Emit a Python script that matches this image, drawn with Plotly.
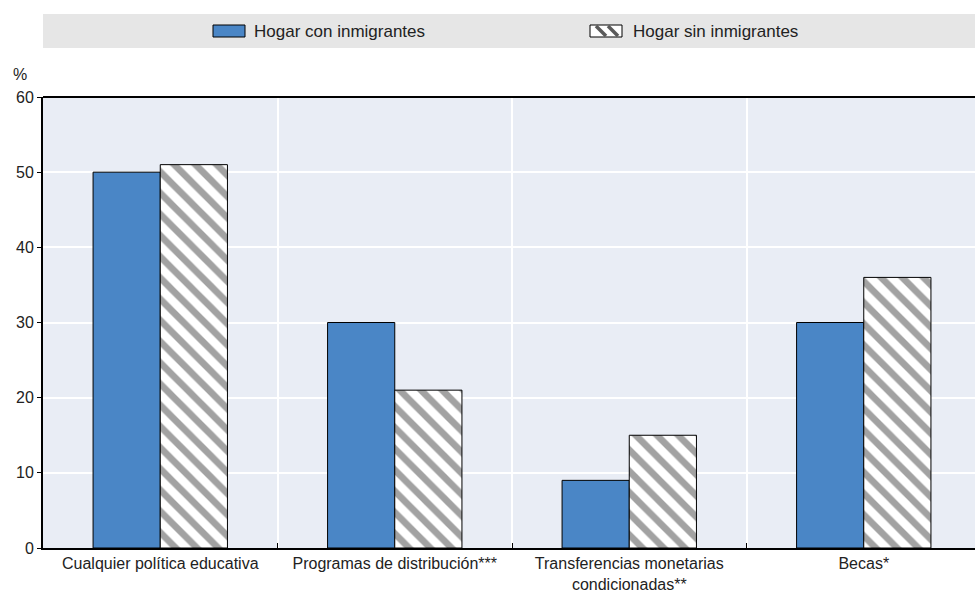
import plotly.graph_objects as go

categories = ["Cualquier política educativa", "Programas de distribución***",
              "Transferencias monetarias<br>condicionadas**", "Becas*"]
series_names = ["Hogar con inmigrantes", "Hogar sin inmigrantes"]
with_immigrants = [50, 30, 9, 30]
without_immigrants = [51, 21, 15, 36]
y_ticks = [0, 10, 20, 30, 40, 50, 60]

FONT = "Liberation Sans Narrow, Arial Narrow, Liberation Sans, Arial, sans-serif"
OFF = 0  # body margin removed via post_script
W, H = 975, 596
# target page-pixel geometry of plot area
P_L, P_R, P_T, P_B = 43, 975, 97, 548
ml = P_L - OFF
mt = P_T - OFF
mr = W - (P_R - OFF)
mb = H - (P_B - OFF)
PW, PH = W - ml - mr, H - mt - mb
BLUE = "#4A86C6"


def px_x(px):
    return (px - P_L) / PW


def px_y(py):
    return (P_B - py) / PH


fig = go.Figure()
fig.add_trace(go.Bar(
    x=categories, y=with_immigrants, name=series_names[0],
    marker=dict(color=BLUE, line=dict(color="#000000", width=1)),
))
fig.add_trace(go.Bar(
    x=categories, y=without_immigrants, name=series_names[1],
    marker=dict(color="#FFFFFF", line=dict(color="#000000", width=1),
                pattern=dict(shape="\\", fgcolor="#454545", bgcolor="#FFFFFF",
                             size=15, solidity=0.45)),
))

shapes = []
# gray legend band
shapes.append(dict(type="rect", xref="paper", yref="paper",
                   x0=px_x(43), x1=px_x(990), y0=px_y(48), y1=px_y(14),
                   fillcolor="#E6E6E6", line=dict(width=0), layer="below"))
# legend symbol 1 (solid blue)
shapes.append(dict(type="rect", xref="paper", yref="paper",
                   x0=px_x(213), x1=px_x(245), y0=px_y(37), y1=px_y(25),
                   fillcolor=BLUE, line=dict(color="#000", width=1)))
# legend symbol 2 (hatched)
shapes.append(dict(type="rect", xref="paper", yref="paper",
                   x0=px_x(590), x1=px_x(622), y0=px_y(37), y1=px_y(25),
                   fillcolor="#FFFFFF", line=dict(color="#000", width=1)))
for a, b in [(596, 606), (608, 618)]:
    shapes.append(dict(type="line", xref="paper", yref="paper",
                       x0=px_x(a), x1=px_x(b), y0=px_y(26), y1=px_y(36),
                       line=dict(color="#5A5A5A", width=3.5)))
# top frame line
shapes.append(dict(type="line", xref="paper", yref="paper", x0=0, x1=1, y0=1, y1=1,
                   line=dict(color="#000", width=2)))

annotations = [
    dict(text=series_names[0], xref="paper", yref="paper", x=px_x(252), y=px_y(31),
         xanchor="left", yanchor="middle", showarrow=False,
         font=dict(family=FONT, size=17, color="#222")),
    dict(text=series_names[1], xref="paper", yref="paper", x=px_x(631), y=px_y(31),
         xanchor="left", yanchor="middle", showarrow=False,
         font=dict(family=FONT, size=17, color="#222")),
    dict(text="%", xref="paper", yref="paper", x=px_x(20), y=px_y(75),
         xanchor="center", yanchor="middle", showarrow=False,
         font=dict(family=FONT, size=16, color="#222")),
]

fig.update_layout(
    width=W, height=H,
    margin=dict(l=ml, r=mr, t=mt, b=mb, pad=0, autoexpand=False),
    paper_bgcolor="white", plot_bgcolor="#E9EDF5",
    font=dict(family=FONT, size=16, color="#222222"),
    barmode="group", bargap=0.427, bargroupgap=0,
    showlegend=False, hovermode=False,
    shapes=shapes, annotations=annotations,
    xaxis=dict(range=[-0.5, 3.5 - 6 / 234], showgrid=True, gridcolor="white", gridwidth=2,
               tickson="boundaries", ticks="inside", ticklen=5, tickcolor="#000",
               showline=True, linecolor="#000", linewidth=2, mirror=False, automargin=False,
               tickfont=dict(family=FONT, size=16, color="#222"), fixedrange=True),
    yaxis=dict(range=[0, 60], tickvals=y_ticks, showgrid=True, gridcolor="white", gridwidth=2,
               ticks="outside", ticklen=4, tickcolor="#000", automargin=False,
               showline=True, linecolor="#000", linewidth=2, mirror=False, zeroline=False,
               tickfont=dict(family=FONT, size=16, color="#222"), fixedrange=True),
)

fig.write_html("out.html", config={"displayModeBar": False, "staticPlot": True},
               post_script="document.body.style.margin='0';document.body.style.overflow='hidden';")
